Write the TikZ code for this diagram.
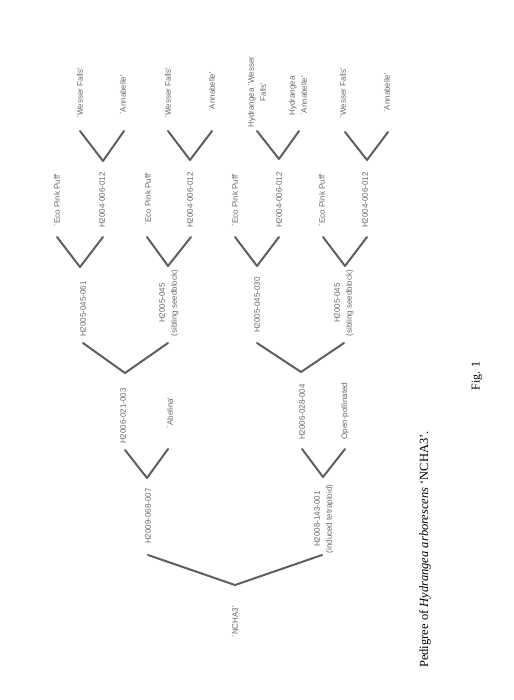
\documentclass[tikz,border=0pt]{standalone}
\usepackage{fontspec}
\setmainfont{Liberation Serif}
\newfontfamily\lblfont{Liberation Sans}
\definecolor{labgray}{RGB}{105,105,105}
\definecolor{linegray}{RGB}{95,95,95}
\begin{document}
\begin{tikzpicture}[x=1pt,y=-1pt,
  lbl/.style={rotate=90, font=\lblfont\fontsize{8}{12}\selectfont, text=labgray, inner sep=0pt, align=center},
  arm/.style={draw=linegray, line width=2pt, line join=round, line cap=round},
  capt/.style={rotate=90, inner sep=0pt, text=black}]
\path[use as bounding box, fill=white] (0,0) rectangle (513,700);

% ---------- labels ----------
\node[lbl] (ncha3) at (235,622) {`NCHA3'};
\node[lbl] (h09) at (148,516) {H2009-068-007};
\node[lbl] (h08) at (324,519) {H2008-143-001\\(induced tetraploid)};
\node[lbl] (h06a) at (123,416) {H2006-021-003};
\node[lbl] (abel) at (170,413) {`Abelina'};
\node[lbl] (h06b) at (302,412) {H2006-028-004};
\node[lbl] (open) at (345,411) {Open-pollinated};
\node[lbl] (h05a) at (83,309) {H2005-045-061};
\node[lbl] (sibA) at (169,303) {H2005-045\\(sibling seedblock)};
\node[lbl] (h05b) at (257,305) {H2005-045-030};
\node[lbl] (sibB) at (344,303) {H2005-045\\(sibling seedblock)};
\node[lbl] (ecoE) at (57,200) {`Eco Pink Puff'};
\node[lbl] (h04E) at (102,200) {H2004-006-012};
\node[lbl] (ecoF) at (148,199) {`Eco Pink Puff'};
\node[lbl] (h04F) at (190,200) {H2004-006-012};
\node[lbl] (ecoG) at (235,200) {`Eco Pink Puff'};
\node[lbl] (h04G) at (279,200) {H2004-006-012};
\node[lbl] (ecoH) at (322,200) {`Eco Pink Puff'};
\node[lbl] (h04H) at (365,200) {H2004-006-012};
\node[lbl] (wesI) at (80,93) {`Wesser Falls'};
\node[lbl] (annI) at (123,95) {`Annabelle'};
\node[lbl] (wesJ) at (168,93) {`Wesser Falls'};
\node[lbl] (annJ) at (212,92) {`Annabelle'};
\node[lbl] (wesK) at (257,92) {Hydrangea `Wesser\\Falls'};
\node[lbl] (annK) at (298,96) {Hydrangea\\`Annabelle'};
\node[lbl] (wesL) at (343,93) {`Wesser Falls'};
\node[lbl] (annL) at (387,93) {`Annabelle'};

% ---------- V points ----------
\coordinate (Rl) at (148,555); \coordinate (Rv) at (235,585); \coordinate (Rr) at (322,555);
\coordinate (Al) at (125,450); \coordinate (Av) at (147,478); \coordinate (Ar) at (168,449);
\coordinate (Bl) at (302,449); \coordinate (Bv) at (323,477); \coordinate (Br) at (345,449);
\coordinate (Cl) at (83,343);  \coordinate (Cv) at (125,373); \coordinate (Cr) at (168,343);
\coordinate (Dl) at (257,343); \coordinate (Dv) at (301,372); \coordinate (Dr) at (344,343);
\coordinate (El) at (57,237);  \coordinate (Ev) at (80,267);  \coordinate (Er) at (103,237);
\coordinate (Fl) at (147,237); \coordinate (Fv) at (168,266); \coordinate (Fr) at (191,237);
\coordinate (Gl) at (235,237); \coordinate (Gv) at (257,266); \coordinate (Gr) at (279,237);
\coordinate (Hl) at (323,237); \coordinate (Hv) at (345,266); \coordinate (Hr) at (367,237);
\coordinate (Il) at (80,131);  \coordinate (Iv) at (103,161); \coordinate (Ir) at (124,131);
\coordinate (Jl) at (168,131); \coordinate (Jv) at (190,160); \coordinate (Jr) at (212,131);
\coordinate (Kl) at (257,131); \coordinate (Kv) at (279,159); \coordinate (Kr) at (299,131);
\coordinate (Ll) at (345,132); \coordinate (Lv) at (367,160); \coordinate (Lr) at (388,132);

\foreach \v in {R,A,B,C,D,E,F,G,H,I,J,K,L}
  \draw[arm] (\v l) -- (\v v) -- (\v r);

% ---------- caption ----------
\node[capt, font=\fontsize{12.5}{14}\selectfont, anchor=east] (cap) at (425,431)
  {Pedigree of \textit{Hydrangea arborescens} `NCHA3'.};
\node[capt, font=\fontsize{12}{14}\selectfont] (fig) at (477,376) {Fig. 1};
\end{tikzpicture}
\end{document}
